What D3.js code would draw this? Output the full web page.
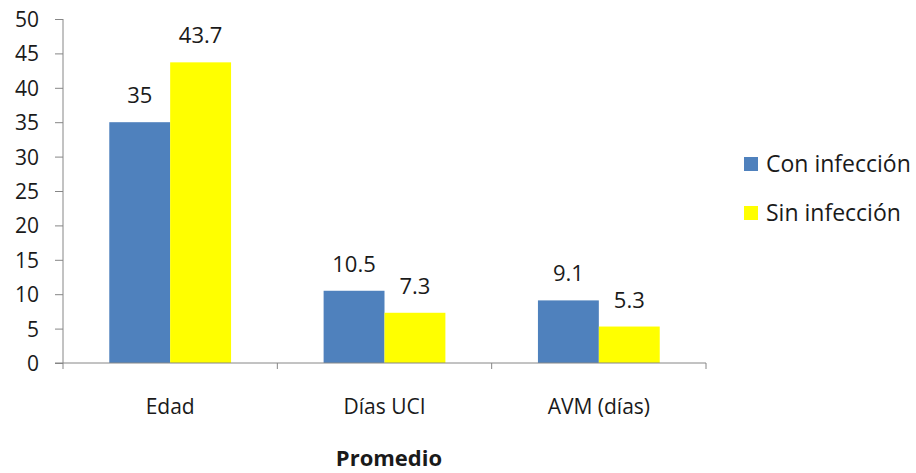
<!DOCTYPE html>
<html>
<head>
<meta charset="utf-8">
<script src="https://cdn.jsdelivr.net/npm/d3@7"></script>
<style>
  body { margin: 0; background: #fff; }
  text { font-family: "Open Sans", sans-serif; fill: #1a1a1a; }
</style>
</head>
<body>
<div id="chart"></div>
<script>
const categories = ["Edad", "Días UCI", "AVM (días)"];
const seriesNames = ["Con infección", "Sin infección"];
const conInfeccion = [35, 10.5, 9.1];
const sinInfeccion = [43.7, 7.3, 5.3];
const yTicks = [0, 5, 10, 15, 20, 25, 30, 35, 40, 45, 50];
const colors = ["#4F81BD", "#FFFF00"];

const dataset = categories.map((c, i) => ({
  cat: c,
  values: [
    { key: seriesNames[0], value: conInfeccion[i] },
    { key: seriesNames[1], value: sinInfeccion[i] }
  ]
}));

const W = 916, H = 473;
const plotLeft = 63, plotRight = 706, plotTop = 19, plotBottom = 363;

const svg = d3.select("#chart").append("svg")
  .attr("width", W)
  .attr("height", H);

const x = d3.scaleBand().domain(categories).range([plotLeft, plotRight]).paddingInner(0).paddingOuter(0);
const x1 = d3.scaleBand().domain(seriesNames).range([0, x.bandwidth()]).paddingInner(0).paddingOuter(0.76);
const y = d3.scaleLinear().domain([0, 50]).range([plotBottom, plotTop]);
const color = d3.scaleOrdinal().domain(seriesNames).range(colors);

// bars
const groups = svg.selectAll("g.cat")
  .data(dataset)
  .enter()
  .append("g")
  .attr("class", "cat")
  .attr("transform", d => `translate(${x(d.cat)},0)`);

groups.selectAll("rect")
  .data(d => d.values)
  .enter()
  .append("rect")
  .attr("x", d => x1(d.key))
  .attr("y", d => y(d.value))
  .attr("width", x1.bandwidth())
  .attr("height", d => y(0) - y(d.value))
  .attr("fill", d => color(d.key));

groups.selectAll("text.val")
  .data(d => d.values)
  .enter()
  .append("text")
  .attr("class", "val")
  .attr("x", d => x1(d.key) + x1.bandwidth() / 2)
  .attr("y", d => y(d.value) - 19)
  .attr("text-anchor", "middle")
  .style("font-size", "22px")
  .text(d => d.value);

// y axis
const yAxis = svg.append("g")
  .attr("transform", `translate(${plotLeft},0)`)
  .call(d3.axisLeft(y).tickValues(yTicks).tickSize(8).tickPadding(16));
yAxis.select(".domain").attr("stroke", "#868686").attr("d", `M0,${plotTop}V${plotBottom + 6}`);
yAxis.selectAll(".tick line").attr("stroke", "#868686");
yAxis.selectAll(".tick text").style("font-size", "21px").attr("fill", "#1a1a1a").attr("dy", "0.36em");

// x axis
const xAxis = svg.append("g")
  .attr("transform", `translate(0,${plotBottom})`)
  .call(d3.axisBottom(x).tickSize(0).tickPadding(36));
xAxis.select(".domain").attr("stroke", "#868686").attr("d", `M${plotLeft - 8},0H${plotRight}`);
xAxis.selectAll(".tick text").style("font-size", "21px").attr("fill", "#1a1a1a");
xAxis.selectAll("line.sep")
  .data(categories.slice(1).concat([null]))
  .enter()
  .append("line")
  .attr("class", "sep")
  .attr("x1", d => d === null ? plotRight : x(d))
  .attr("x2", d => d === null ? plotRight : x(d))
  .attr("y1", 0)
  .attr("y2", 6)
  .attr("stroke", "#868686");

svg.append("text")
  .attr("x", 389)
  .attr("y", 466)
  .attr("text-anchor", "middle")
  .style("font-size", "22px")
  .style("font-weight", "bold")
  .text("Promedio");

// legend
const legend = svg.selectAll("g.leg")
  .data(seriesNames)
  .enter()
  .append("g")
  .attr("class", "leg")
  .attr("transform", (d, i) => `translate(744,${157 + i * 49})`);
legend.append("rect").attr("width", 14).attr("height", 14).attr("fill", d => color(d));
legend.append("text")
  .attr("x", 22)
  .attr("y", 7)
  .attr("dy", "0.35em")
  .style("font-size", "23px")
  .text(d => d);
</script>
</body>
</html>
